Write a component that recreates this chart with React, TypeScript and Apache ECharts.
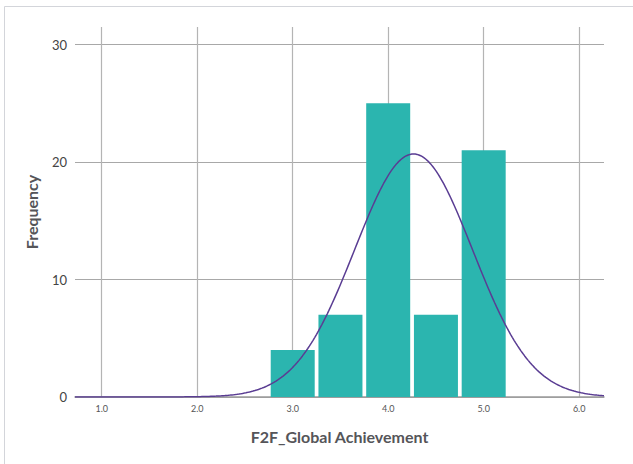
import React, { useEffect, useRef } from "react";
import * as echarts from "echarts";

// Histogram bins (bin centres, width 0.5) and their counts
const binCenters = [3.0, 3.5, 4.0, 4.5, 5.0];
const binCounts = [4, 7, 25, 7, 21];
const binWidth = 0.5;

const xTicks = [1, 2, 3, 4, 5, 6];
const yTicks = [0, 10, 20, 30];

const xMin = 0.72;
const xMax = 6.26;
const yMax = 31.5;

// Fitted normal curve from the binned data (mean and sample SD), scaled to counts
function normalCurve(): number[][] {
  const n = binCounts.reduce((a, b) => a + b, 0);
  const mean = binCenters.reduce((s, c, i) => s + c * binCounts[i], 0) / n;
  const variance =
    binCenters.reduce((s, c, i) => s + binCounts[i] * (c - mean) ** 2, 0) / (n - 1);
  const sd = Math.sqrt(variance);
  const pts: number[][] = [];
  const steps = 300;
  for (let k = 0; k <= steps; k++) {
    const x = xMin + ((xMax - xMin) * k) / steps;
    const y =
      (n * binWidth * Math.exp(-((x - mean) ** 2) / (2 * sd * sd))) /
      (sd * Math.sqrt(2 * Math.PI));
    pts.push([x, y]);
  }
  return pts;
}

export default function App() {
  const ref = useRef<HTMLDivElement>(null);

  useEffect(() => {
    document.body.style.margin = "0";
    if (!ref.current) return;
    const chart = echarts.init(ref.current, undefined, { renderer: "svg" });
    const font = "Lato, 'Open Sans', sans-serif";
    chart.setOption({
      animation: false,
      backgroundColor: "#ffffff",
      textStyle: { fontFamily: font },
      graphic: [
        {
          type: "rect",
          shape: { x: 4.5, y: 6.5, width: 700, height: 520 },
          style: { fill: "none", stroke: "#d3d5da", lineWidth: 1 },
          silent: true,
          z: -1,
        },
      ],
      grid: { left: 75, right: 29, top: 27, bottom: 67 },
      xAxis: {
        type: "value",
        min: xMin,
        max: xMax,
        name: "F2F_Global Achievement",
        nameLocation: "middle",
        nameGap: 31,
        nameTextStyle: { fontFamily: font, fontWeight: "bold", fontSize: 16, color: "#555559" },
        axisLine: { show: true, lineStyle: { color: "#9a9a9a", width: 1.5 } },
        axisTick: { show: false, customValues: xTicks },
        axisLabel: {
          customValues: xTicks,
          formatter: (v: number) => v.toFixed(1),
          fontSize: 9,
          color: "#555",
          margin: 7,
          fontFamily: font,
        },
        splitLine: { show: true, lineStyle: { color: "#b4b4b4", width: 1.2 } },
      },
      yAxis: {
        type: "value",
        min: 0,
        max: yMax,
        name: "Frequency",
        nameLocation: "middle",
        nameGap: 36,
        nameTextStyle: { fontFamily: font, fontWeight: "bold", fontSize: 16, color: "#555559" },
        axisLine: { show: false },
        axisTick: { show: false, customValues: yTicks },
        axisLabel: {
          customValues: yTicks,
          fontSize: 13,
          color: "#444",
          margin: 8,
          fontFamily: font,
        },
        splitLine: { show: true, lineStyle: { color: "#a8a8a8", width: 1.2 } },
      },
      series: [
        {
          type: "bar",
          data: binCenters.map((c, i) => [c, binCounts[i]]),
          barWidth: 44,
          itemStyle: { color: "#2bb5af" },
          z: 2,
        },
        {
          type: "line",
          data: normalCurve(),
          showSymbol: false,
          symbol: "none",
          lineStyle: { color: "#5a3d93", width: 1.5 },
          z: 3,
        },
      ],
    });
    return () => chart.dispose();
  }, []);

  return <div ref={ref} style={{ width: 633, height: 464 }} />;
}
